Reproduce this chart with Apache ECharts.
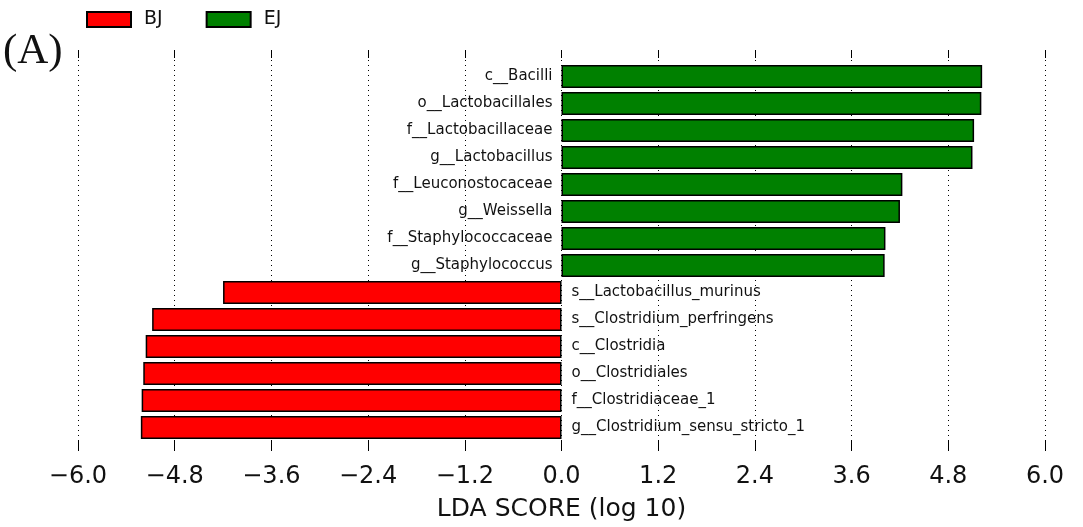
<!DOCTYPE html>
<html>
<head>
<meta charset="utf-8">
<script src="https://cdn.jsdelivr.net/npm/echarts@6/dist/echarts.min.js"></script>
<style>
html,body{margin:0;padding:0;background:#fff;}
#c{width:1083px;height:527px;}
</style>
</head>
<body>
<div id="c"></div>
<script>
// ---- data ----
var ejNames = ['c__Bacilli','o__Lactobacillales','f__Lactobacillaceae','g__Lactobacillus','f__Leuconostocaceae','g__Weissella','f__Staphylococcaceae','g__Staphylococcus'];
var ejValues = [5.22, 5.21, 5.12, 5.10, 4.23, 4.20, 4.02, 4.01];
var bjNames = ['s__Lactobacillus_murinus','s__Clostridium_perfringens','c__Clostridia','o__Clostridiales','f__Clostridiaceae_1','g__Clostridium_sensu_stricto_1'];
var bjValues = [-4.20, -5.08, -5.16, -5.19, -5.21, -5.22];
var xTicks = [-6.0, -4.8, -3.6, -2.4, -1.2, 0.0, 1.2, 2.4, 3.6, 4.8, 6.0];
var groups = ['BJ', 'EJ'];
var xTitle = 'LDA SCORE (log 10)';
var panelTag = '(A)';

var categories = ejNames.concat(bjNames);
var ejData = ejValues.concat(bjNames.map(function(){return '-';}));
var bjData = ejNames.map(function(){return '-';}).concat(bjValues);

function fmtTick(v){
  var best = xTicks.reduce(function(a,b){return Math.abs(b-v)<Math.abs(a-v)?b:a;});
  var s = Math.abs(best).toFixed(1);
  return best < 0 ? '\u2212' + s : s;
}

var FONT = 'DejaVu Sans';
var L = 78, R = 38;
var chart = echarts.init(document.getElementById('c'));
chart.setOption({
  backgroundColor: '#ffffff',
  animation: false,
  title: {
    text: panelTag, left: 3, top: 30, padding: 0,
    textStyle: {fontFamily: 'Liberation Serif', fontWeight: 'normal', fontSize: 43, color: '#111'}
  },
  legend: {
    data: groups, left: 86, top: 10, padding: 0, itemWidth: 44, itemHeight: 15, itemGap: 43,
    icon: 'rect',
    textStyle: {fontFamily: FONT, fontSize: 19, color: '#111', padding: [0,0,0,8]}
  },
  grid: [
    {left: L, right: R, top: 63, height: 378},
    {left: L, right: R, top: 50, height: 403}
  ],
  xAxis: [
    {gridIndex: 0, type: 'value', min: -6, max: 6, interval: 1.2, show: false},
    {gridIndex: 1, type: 'value', min: -6, max: 6, interval: 1.2, position: 'bottom',
      axisLine: {show: false},
      axisTick: {show: true, inside: true, length: 10, lineStyle: {color: '#000', width: 1}},
      axisLabel: {formatter: fmtTick, fontFamily: FONT, fontSize: 24, color: '#111', margin: 14},
      splitLine: {show: true, lineStyle: {color: '#000', width: 1, type: [1, 4]}},
      name: xTitle, nameLocation: 'middle', nameGap: 46,
      nameTextStyle: {fontFamily: FONT, fontSize: 25, color: '#111'}
    },
    {gridIndex: 1, type: 'value', min: -6, max: 6, interval: 1.2, position: 'top',
      axisLine: {show: false},
      axisTick: {show: true, inside: true, length: 8, lineStyle: {color: '#000', width: 1}},
      axisLabel: {show: false}, splitLine: {show: false}
    }
  ],
  yAxis: [
    {gridIndex: 0, type: 'category', data: categories, inverse: true, show: false},
    {gridIndex: 1, type: 'value', min: 0, max: 1, show: false}
  ],
  series: [
    {
      name: 'BJ', type: 'bar', xAxisIndex: 0, yAxisIndex: 0, data: bjData,
      barCategoryGap: '14%', barGap: '-100%',
      itemStyle: {color: '#ff0000', borderColor: '#000', borderWidth: 1.5},
      label: {show: true, position: 'right', distance: 10, formatter: function(p){return p.name;},
        fontFamily: FONT, fontSize: 15, color: '#111'}
    },
    {
      name: 'EJ', type: 'bar', xAxisIndex: 0, yAxisIndex: 0, data: ejData,
      barCategoryGap: '14%', barGap: '-100%',
      itemStyle: {color: '#008000', borderColor: '#000', borderWidth: 1.5},
      label: {show: true, position: 'left', distance: 9, formatter: function(p){return p.name;},
        fontFamily: FONT, fontSize: 15, color: '#111'}
    }
  ]
});
</script>
</body>
</html>
